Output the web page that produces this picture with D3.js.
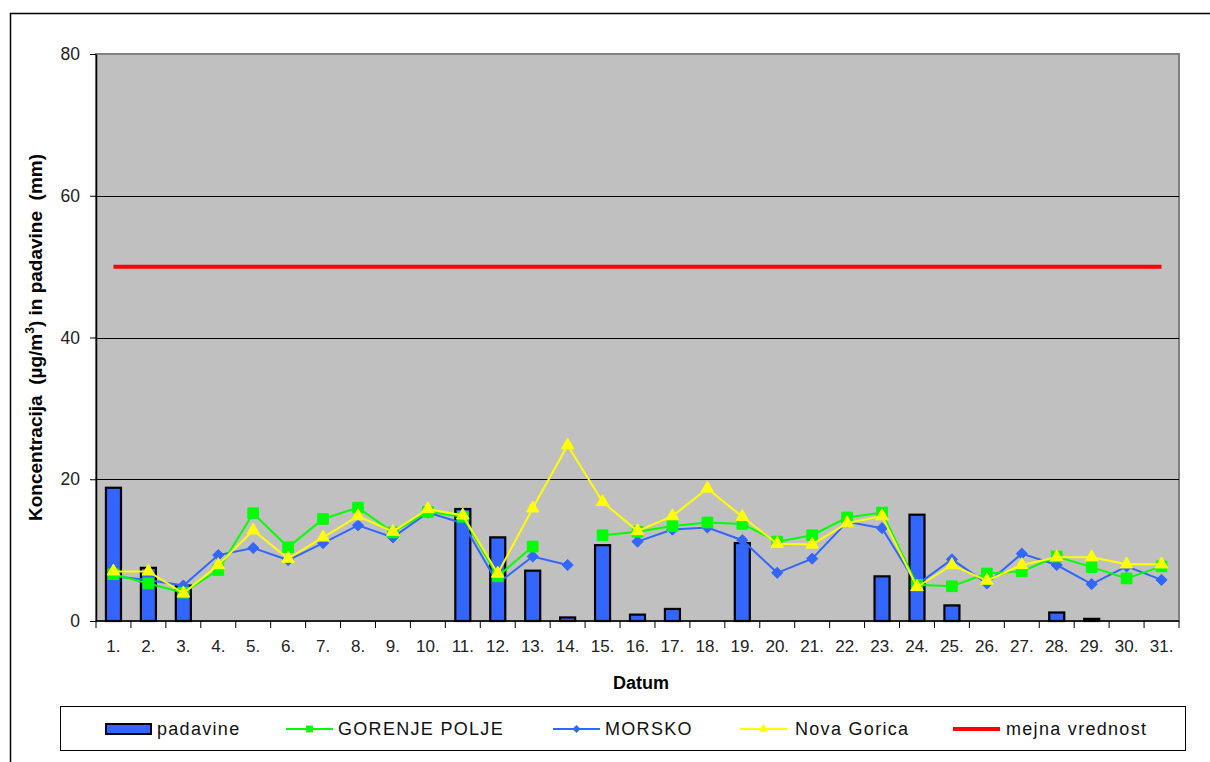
<!DOCTYPE html>
<html>
<head>
<meta charset="utf-8">
<script src="https://cdn.jsdelivr.net/npm/d3@7"></script>
<style>
  body { margin: 0; background: #fff; }
  text { font-family: "Liberation Sans", Arial, sans-serif; white-space: pre; }
</style>
</head>
<body>
<svg id="chart" width="1210" height="762"></svg>
<script>
// days of the month
var days = d3.range(1, 32).map(function(d) { return d + "."; });

// padavine (mm)
var padavine = [18.8, 7.5, 5.0, 0, 0, 0, 0, 0, 0, 0,
                15.8, 11.8, 7.1, 0.5, 10.7, 0.9, 1.7, 0, 11.0, 0,
                0, 0, 6.3, 15.0, 2.2, 0, 0, 1.2, 0.3, 0, 0];

var gorenje = [6.6, 5.3, 4.0, 7.2, 15.2, 10.4, 14.4, 16.0, 12.5, 15.4,
               14.7, 6.3, 10.5, null, 12.1, 12.6, 13.4, 13.9, 13.7, 11.2,
               12.1, 14.6, 15.3, 5.1, 4.9, 6.7, 7.0, 9.1, 7.6, 6.0, 7.7];

var morsko = [6.3, 5.8, 5.0, 9.3, 10.3, 8.6, 11.0, 13.5, 11.8, 15.3,
              13.8, 5.3, 9.1, 7.9, null, 11.2, 12.9, 13.2, 11.4, 6.8,
              8.8, 14.0, 13.1, 5.1, 8.7, 5.3, 9.5, 7.9, 5.2, 7.7, 5.8];

var novaGorica = [7.0, 7.0, 3.9, 7.9, 12.8, 8.8, 11.8, 14.8, 12.6, 15.8,
                  14.9, 6.7, 15.9, 24.8, 16.8, 12.7, 14.8, 18.7, 14.7, 10.9,
                  10.8, 13.8, 14.8, 4.8, 7.9, 5.7, 7.9, 9.0, 9.0, 8.0, 8.0];

var mejna = 50;
var yTicks = [0, 20, 40, 60, 80];

var svg = d3.select("#chart");

var margin = { left: 96, top: 54, right: 1179, bottom: 621 };

var x = d3.scaleBand().domain(days).range([margin.left, margin.right]).padding(0);
var y = d3.scaleLinear().domain([0, 80]).range([margin.bottom, margin.top]);

// outer frame
svg.append("rect")
    .attr("x", 10.5).attr("y", 13.5)
    .attr("width", 1230).attr("height", 780)
    .attr("fill", "none").attr("stroke", "#000").attr("stroke-width", 1.5);

// plot background
svg.append("rect")
    .attr("x", margin.left).attr("y", margin.top)
    .attr("width", margin.right - margin.left)
    .attr("height", margin.bottom - margin.top)
    .attr("fill", "#c0c0c0")
    .attr("stroke", "#808080").attr("stroke-width", 2);

// grid lines
svg.append("g").selectAll("line")
    .data([20, 40, 60])
    .join("line")
    .attr("x1", margin.left).attr("x2", margin.right)
    .attr("y1", function(d) { return Math.round(y(d)) + 0.5; })
    .attr("y2", function(d) { return Math.round(y(d)) + 0.5; })
    .attr("stroke", "#000").attr("stroke-width", 1);

// y axis
var yAxis = svg.append("g")
    .attr("transform", "translate(" + margin.left + ",0)")
    .call(d3.axisLeft(y).tickValues(yTicks).tickSize(6).tickPadding(10).tickSizeOuter(0));
yAxis.select(".domain").attr("stroke", "#000").attr("stroke-width", 1.5);
yAxis.selectAll("text").attr("font-size", "17.5px").attr("fill", "#222")
    .attr("font-family", "Liberation Sans, Arial, sans-serif");

// x axis labels
var xAxis = svg.append("g")
    .attr("transform", "translate(0," + margin.bottom + ")")
    .call(d3.axisBottom(x).tickSize(0).tickPadding(19));
xAxis.select(".domain").attr("stroke", "#000").attr("stroke-width", 1.5)
    .attr("d", "M" + margin.left + ",0H" + margin.right);
xAxis.selectAll("text").attr("font-size", "17px").attr("fill", "#222")
    .attr("font-family", "Liberation Sans, Arial, sans-serif");

// x ticks between the days
svg.append("g").selectAll("line")
    .data(d3.range(0, days.length + 1))
    .join("line")
    .attr("x1", function(i) { return margin.left + i * x.step(); })
    .attr("x2", function(i) { return margin.left + i * x.step(); })
    .attr("y1", margin.bottom).attr("y2", margin.bottom + 7)
    .attr("stroke", "#000").attr("stroke-width", 1);

// bars
var barW = x.bandwidth() * 0.43;
svg.append("g").selectAll("rect")
    .data(padavine.map(function(v, i) { return { day: days[i], v: v }; }).filter(function(d) { return d.v > 0; }))
    .join("rect")
    .attr("x", function(d) { return x(d.day) + (x.bandwidth() - barW) / 2; })
    .attr("y", function(d) { return y(d.v); })
    .attr("width", barW)
    .attr("height", function(d) { return y(0) - y(d.v); })
    .attr("fill", "#3366ff")
    .attr("stroke", "#000").attr("stroke-width", 2.2);

// mejna vrednost
svg.append("line")
    .attr("x1", x(days[0]) + x.bandwidth() / 2)
    .attr("x2", x(days[days.length - 1]) + x.bandwidth() / 2)
    .attr("y1", y(mejna)).attr("y2", y(mejna))
    .attr("stroke", "#ff0000").attr("stroke-width", 4);

var cx = function(i) { return x(days[i]) + x.bandwidth() / 2; };

var line = d3.line()
    .defined(function(d) { return d != null; })
    .x(function(d, i) { return cx(i); })
    .y(function(d) { return y(d); });

var series = [
    { name: "MORSKO", values: morsko, color: "#3366ff", symbol: d3.symbolDiamond2, size: 80 },
    { name: "GORENJE POLJE", values: gorenje, color: "#00ff00", symbol: d3.symbolSquare2, size: 145 },
    { name: "Nova Gorica", values: novaGorica, color: "#ffff00", symbol: d3.symbolTriangle2, size: 115 }
];

series.forEach(function(s) {
    svg.append("path")
        .datum(s.values)
        .attr("d", line)
        .attr("fill", "none")
        .attr("stroke", s.color)
        .attr("stroke-width", 2);

    svg.append("g").selectAll("path")
        .data(s.values.map(function(v, i) { return { v: v, i: i }; }).filter(function(d) { return d.v != null; }))
        .join("path")
        .attr("transform", function(d) { return "translate(" + cx(d.i) + "," + y(d.v) + ")"; })
        .attr("d", d3.symbol().type(s.symbol).size(s.size))
        .attr("fill", s.color)
        .attr("stroke", s.color).attr("stroke-width", 1);
});

// axis titles
var ytitle = svg.append("text")
    .attr("transform", "translate(42," + ((margin.top + margin.bottom) / 2) + ") rotate(-90)")
    .attr("text-anchor", "middle")
    .attr("font-size", "19px").attr("font-weight", "bold");
ytitle.append("tspan").text("Koncentracija  (µg/m");
ytitle.append("tspan").attr("font-size", "12px").attr("dy", -8).text("3");
ytitle.append("tspan").attr("dy", 8).text(") in padavine  (mm)");

svg.append("text")
    .attr("x", 641).attr("y", 689)
    .attr("text-anchor", "middle")
    .attr("font-size", "18px").attr("font-weight", "bold")
    .text("Datum");

// legend
var legend = svg.append("g");
legend.append("rect")
    .attr("x", 60.5).attr("y", 706.5)
    .attr("width", 1125).attr("height", 44)
    .attr("fill", "#fff").attr("stroke", "#000").attr("stroke-width", 1);

var ly = 729;
legend.append("rect")
    .attr("x", 106).attr("y", ly - 5).attr("width", 45).attr("height", 10)
    .attr("fill", "#3366ff").attr("stroke", "#000").attr("stroke-width", 2);

var legItems = [
    { x: 286, color: "#00ff00", symbol: d3.symbolSquare2, size: 60, w: 2 },
    { x: 553, color: "#3366ff", symbol: d3.symbolDiamond2, size: 40, w: 2 },
    { x: 740, color: "#ffff00", symbol: d3.symbolTriangle2, size: 60, w: 2 },
    { x: 953, color: "#ff0000", symbol: null, size: 0, w: 4 }
];
legItems.forEach(function(it) {
    legend.append("line")
        .attr("x1", it.x).attr("x2", it.x + 47)
        .attr("y1", ly).attr("y2", ly)
        .attr("stroke", it.color).attr("stroke-width", it.w);
    if (it.symbol) {
        legend.append("path")
            .attr("transform", "translate(" + (it.x + 23.5) + "," + ly + ")")
            .attr("d", d3.symbol().type(it.symbol).size(it.size))
            .attr("fill", it.color);
    }
});

var legLabels = [
    { x: 157, t: "padavine" },
    { x: 338, t: "GORENJE POLJE" },
    { x: 605, t: "MORSKO" },
    { x: 795, t: "Nova Gorica" },
    { x: 1006, t: "mejna vrednost" }
];
legend.selectAll("text.lab")
    .data(legLabels)
    .join("text")
    .attr("class", "lab")
    .attr("x", function(d) { return d.x; })
    .attr("y", ly + 6)
    .attr("font-size", "18px")
    .attr("letter-spacing", "1.3px")
    .attr("fill", "#111")
    .text(function(d) { return d.t; });
</script>
</body>
</html>
